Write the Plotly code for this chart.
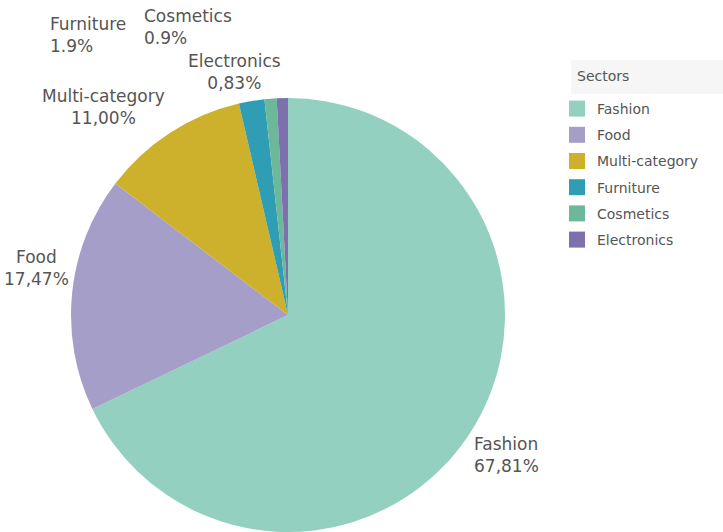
import plotly.graph_objects as go

# Market share by sector
sectors = ["Fashion", "Food", "Multi-category", "Furniture", "Cosmetics", "Electronics"]
shares = [67.81, 17.47, 11.00, 1.9, 0.9, 0.83]
share_labels = ["67,81%", "17,47%", "11,00%", "1.9%", "0.9%", "0,83%"]
colors = ["#93d0bf", "#a59ec9", "#cdb12c", "#2f9db3", "#6db79a", "#7d70ac"]

TEXT = "#555555"
FONT = "DejaVu Sans"
W, H = 723, 532

fig = go.Figure(
    go.Pie(
        labels=sectors,
        values=shares,
        sort=False,
        direction="clockwise",
        rotation=0,
        marker=dict(colors=colors, line=dict(width=0)),
        textinfo="none",
        hoverinfo="label+percent",
        showlegend=False,
        domain=dict(x=[0.0982, 0.6985], y=[0.0, 0.8158]),
    )
)

# Legend entries with square swatches, one group per sector for even spacing
for name, col in zip(sectors, colors):
    fig.add_trace(
        go.Scatter(
            x=[None], y=[None], mode="markers", name=name,
            legendgroup=name,
            marker=dict(symbol="square", size=17, color=col),
            hoverinfo="skip",
        )
    )

# Slice labels: (x px, y px, anchor) per sector
label_pos = [
    (472, 455, "left"),
    (36, 268, "center"),
    (104, 107, "center"),
    (48, 35, "left"),
    (142, 27, "left"),
    (234, 72, "center"),
]
for name, txt, (x, y, anchor) in zip(sectors, share_labels, label_pos):
    fig.add_annotation(
        x=x / W, y=1 - y / H, xref="paper", yref="paper",
        text=f"{name}<br>{txt}",
        showarrow=False, align=anchor,
        xanchor=anchor, yanchor="middle",
        font=dict(family=FONT, size=17, color=TEXT),
    )

# Legend title with its light band
fig.add_shape(
    type="rect", xref="paper", yref="paper",
    x0=571 / W, x1=1, y0=1 - 94 / H, y1=1 - 60 / H,
    fillcolor="#f6f6f6", line=dict(width=0), layer="below",
)
fig.add_annotation(
    x=575 / W, y=1 - 76 / H, xref="paper", yref="paper",
    text="Sectors", showarrow=False, xanchor="left", yanchor="middle",
    font=dict(family=FONT, size=14, color=TEXT),
)

fig.update_layout(
    width=W, height=H,
    margin=dict(l=0, r=0, t=0, b=0),
    paper_bgcolor="white",
    plot_bgcolor="white",
    showlegend=True,
    xaxis=dict(visible=False),
    yaxis=dict(visible=False),
    legend=dict(
        font=dict(family=FONT, size=14, color=TEXT),
        x=557 / W, y=1 - 93 / H, xanchor="left", yanchor="top",
        tracegroupgap=5,
        bgcolor="rgba(0,0,0,0)",
    ),
)

fig.write_html("out.html")
